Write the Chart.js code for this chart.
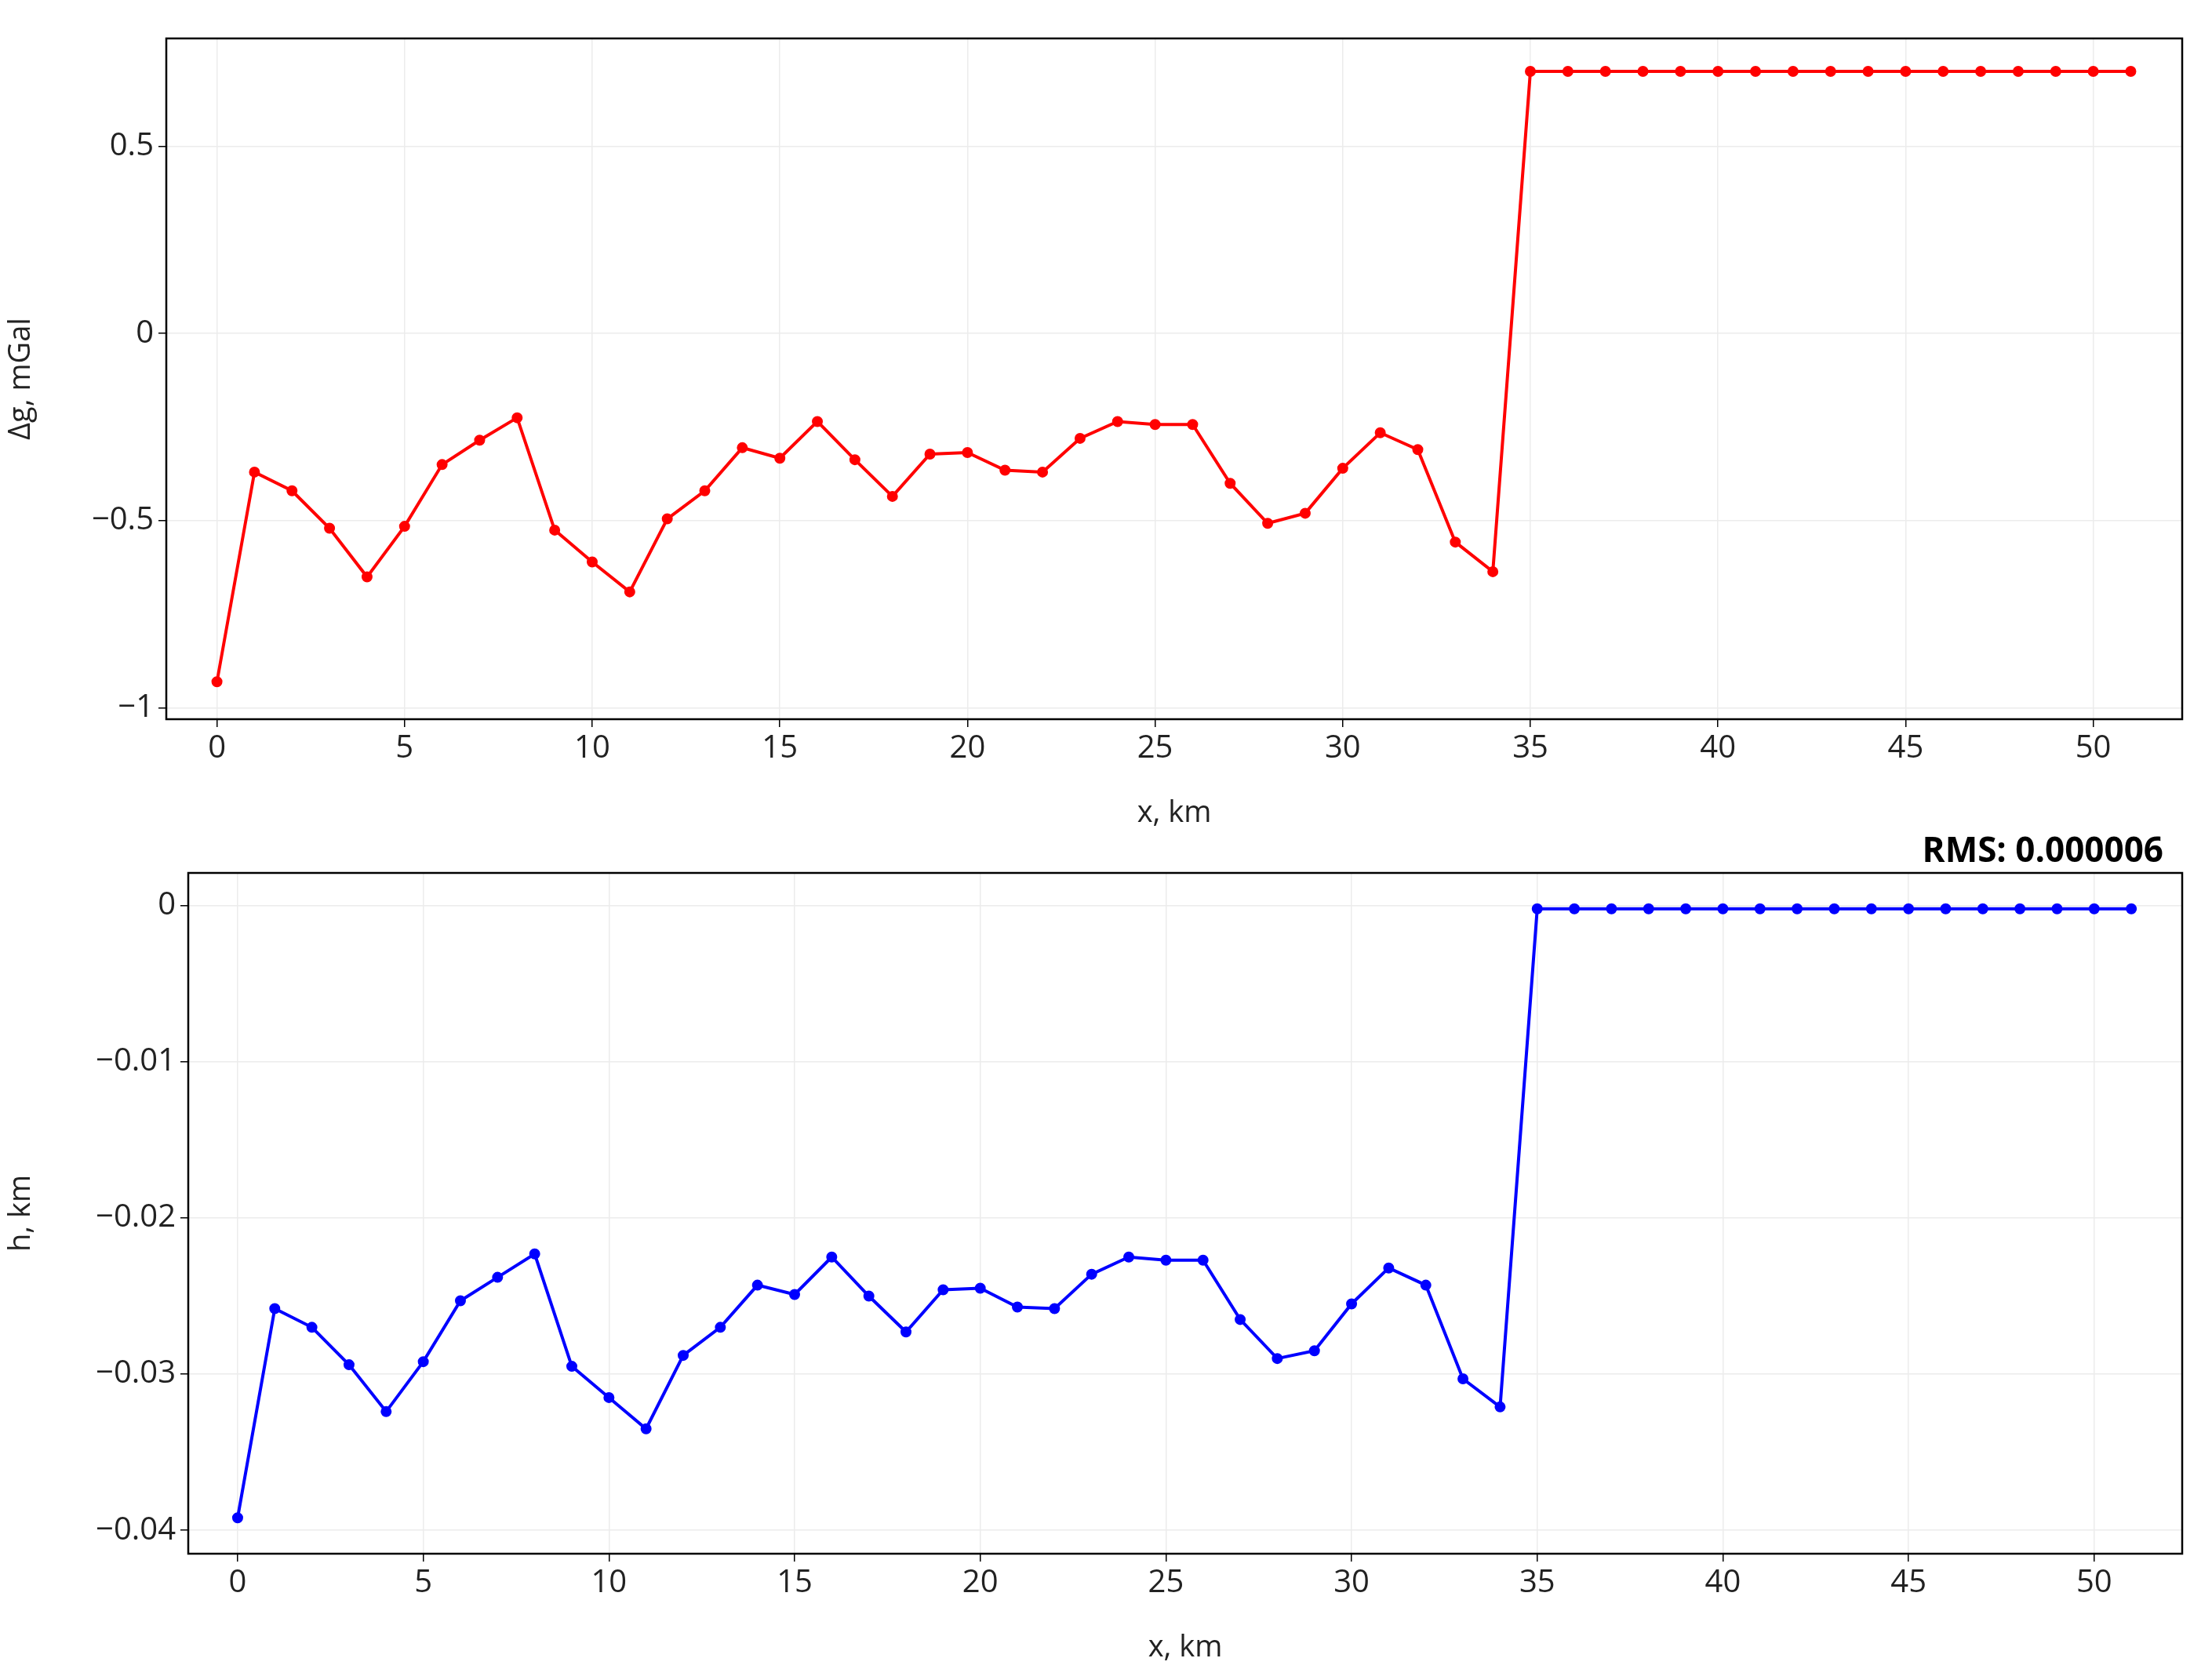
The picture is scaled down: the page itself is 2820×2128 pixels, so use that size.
<!DOCTYPE html>
<html>
<head>
<meta charset="utf-8">
<script src="https://cdn.jsdelivr.net/npm/chart.js@4.4.0/dist/chart.umd.min.js"></script>
<style>
  html, body { margin: 0; padding: 0; background: #fff; }
  .wrap { position: absolute; left: 0; width: 2820px; height: 1064px; }
  #rms { position: absolute; right: 62px; top: 1052px; font: bold 44px "Open Sans", sans-serif; color: #000; }
</style>
</head>
<body>
<div class="wrap" style="top:0"><canvas id="gChart"></canvas></div>
<div class="wrap" style="top:1064px"><canvas id="hChart"></canvas></div>
<div id="rms">RMS: 0.000006</div>
<script>
// distance along the profile, km
const xKm = Array.from({ length: 52 }, (_, i) => i);

// gravity anomaly, mGal
const deltaG = [
  -0.93, -0.37, -0.42, -0.52, -0.65, -0.515, -0.35, -0.285, -0.225, -0.525,
  -0.61, -0.69, -0.495, -0.42, -0.305, -0.333, -0.235, -0.337, -0.435, -0.322,
  -0.318, -0.365, -0.37, -0.28, -0.235, -0.243, -0.243, -0.40, -0.507, -0.48,
  -0.36, -0.265, -0.31, -0.557, -0.636,
  0.70, 0.70, 0.70, 0.70, 0.70, 0.70, 0.70, 0.70, 0.70, 0.70,
  0.70, 0.70, 0.70, 0.70, 0.70, 0.70, 0.70
];

// relief, km
const heightKm = [
  -0.0392, -0.0258, -0.0270, -0.0294, -0.0324, -0.0292, -0.0253, -0.0238, -0.0223, -0.0295,
  -0.0315, -0.0335, -0.0288, -0.0270, -0.0243, -0.0249, -0.0225, -0.0250, -0.0273, -0.0246,
  -0.0245, -0.0257, -0.0258, -0.0236, -0.0225, -0.0227, -0.0227, -0.0265, -0.0290, -0.0285,
  -0.0255, -0.0232, -0.0243, -0.0303, -0.0321,
  -0.0002, -0.0002, -0.0002, -0.0002, -0.0002, -0.0002, -0.0002, -0.0002, -0.0002, -0.0002,
  -0.0002, -0.0002, -0.0002, -0.0002, -0.0002, -0.0002, -0.0002
];

const gTicks = [-1, -0.5, 0, 0.5];
const hTicks = [-0.04, -0.03, -0.02, -0.01, 0];
const xTicks = [0, 5, 10, 15, 20, 25, 30, 35, 40, 45, 50];

const FONT = '"Open Sans", sans-serif';

const frame = {
  id: 'frame',
  afterDraw(chart) {
    const { ctx, chartArea: a } = chart;
    ctx.save();
    ctx.strokeStyle = '#000';
    ctx.lineWidth = 2.5;
    ctx.strokeRect(a.left, a.top, a.right - a.left, a.bottom - a.top);
    ctx.restore();
  }
};

function fmt(v) {
  return v < 0 ? '\u2212' + String(Math.abs(v)) : String(v);
}

function makeChart(id, values, color, yTicks, yMin, yMax, yLabel, xMin, leftW) {
  new Chart(document.getElementById(id), {
    type: 'line',
    data: {
      datasets: [{
        data: xKm.map((x, i) => ({ x, y: values[i] })),
        borderColor: color,
        backgroundColor: color,
        borderWidth: 4,
        pointRadius: 5,
        pointHoverRadius: 5,
        tension: 0
      }]
    },
    plugins: [frame],
    options: {
      responsive: false,
      animation: false,
      devicePixelRatio: 1,
      layout: { padding: { top: 49, right: 23, left: 0, bottom: 0 } },
      plugins: { legend: { display: false }, tooltip: { enabled: false } },
      scales: {
        x: {
          type: 'linear', min: xMin, max: 52.37,
          afterBuildTicks: ax => { ax.ticks = xTicks.map(v => ({ value: v })); },
          afterFit: ax => { ax.height = 147; },
          grid: { color: '#ececec', tickColor: '#000', tickLength: 10, lineWidth: 1.5 },
          border: { display: false },
          ticks: { color: '#222', font: { family: FONT, size: 40 }, padding: 4 },
          title: { display: true, text: 'x, km', color: '#222', font: { family: FONT, size: 38 }, padding: { top: 0 } }
        },
        y: {
          min: yMin, max: yMax,
          afterBuildTicks: ax => { ax.ticks = yTicks.map(v => ({ value: v })); },
          afterFit: ax => { ax.width = leftW; },
          grid: { color: '#ececec', tickColor: '#000', tickLength: 10, lineWidth: 1.5 },
          border: { display: false },
          ticks: { color: '#222', font: { family: FONT, size: 40 }, padding: 6, callback: v => fmt(v) },
          title: { display: true, text: yLabel, color: '#222', font: { family: FONT, size: 38 }, padding: { bottom: 4 } }
        }
      }
    }
  });
}

document.querySelectorAll('canvas').forEach(c => { c.width = 2805; c.height = 1064; });

makeChart('gChart', deltaG, '#ff0000', gTicks, -1.03, 0.788, '\u0394g, mGal', -1.35, 212);
makeChart('hChart', heightKm, '#0000ff', hTicks, -0.0415, 0.0021, 'h, km', -1.33, 240);
</script>
</body>
</html>
